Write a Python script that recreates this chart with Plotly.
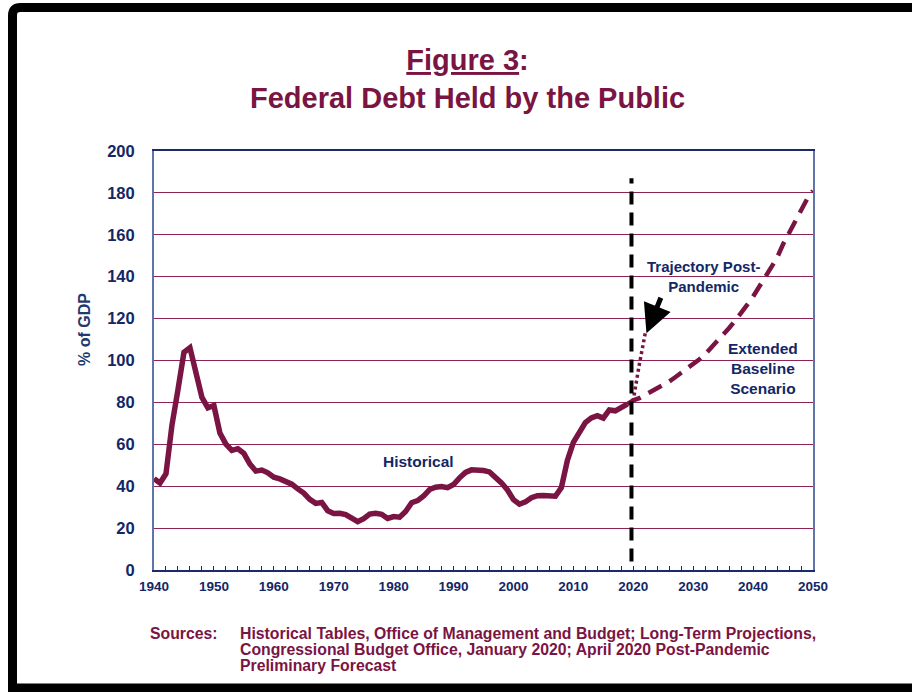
import plotly.graph_objects as go

# Federal debt held by the public, % of GDP (fiscal years)
hist_years = list(range(1940, 2020))
hist_debt = [
    43.6, 41.5, 45.9, 69.2, 86.0, 103.9, 106.1, 93.9, 82.4, 77.4,
    78.5, 65.4, 60.1, 57.1, 57.9, 55.7, 50.6, 47.2, 47.7, 46.4,
    44.3, 43.5, 42.3, 41.0, 38.7, 36.7, 33.7, 31.8, 32.2, 28.3,
    27.0, 27.1, 26.4, 25.1, 23.1, 24.5, 26.7, 27.1, 26.6, 24.6,
    25.5, 25.2, 27.9, 32.1, 33.1, 35.3, 38.4, 39.5, 39.8, 39.3,
    40.8, 44.0, 46.6, 47.8, 47.7, 47.5, 46.8, 44.5, 41.6, 38.2,
    33.6, 31.4, 32.5, 34.5, 35.5, 35.6, 35.3, 35.2, 39.3, 52.3,
    60.9, 65.9, 70.4, 72.6, 73.7, 72.5, 76.4, 76.0, 77.4, 79.2,
]

# CBO extended baseline scenario (January 2020)
base_years = list(range(2019, 2051))
base_debt = [
    79.2, 81.0, 82.0, 83.5, 85.0, 87.0, 88.5, 90.0, 92.0, 94.0, 96.0,
    98.5, 100.5, 103.0, 106.0, 109.0, 112.0, 115.5, 119.0, 122.5, 126.5,
    130.5, 135.0, 139.5, 144.0, 149.0, 155.5, 161.0, 166.5, 172.0, 177.0,
    181.0,
]

# April 2020 post-pandemic preliminary forecast
pandemic_years = [2019, 2020, 2021, 2022]
pandemic_debt = [79.2, 81.0, 98.0, 113.0]

x_ticks = list(range(1940, 2051, 10))
y_ticks = list(range(0, 201, 20))

MAROON = "#7A1443"
NAVY = "#132766"
FONT = "Liberation Sans, Arial, sans-serif"

# plot-area geometry in pixels (used to place paper-referenced items)
W, H = 912, 692
L, R, T, B = 154, 813, 151, 570
pw, ph = R - L, B - T


def px(x):
    return (x - L) / pw


def py(y):
    return (B - y) / ph


fig = go.Figure()

fig.add_trace(go.Scatter(
    x=hist_years, y=hist_debt, mode="lines",
    line=dict(color=MAROON, width=5.5, shape="linear"),
    hoverinfo="skip", showlegend=False,
))
fig.add_trace(go.Scatter(
    x=base_years, y=base_debt, mode="lines",
    line=dict(color=MAROON, width=4.5, dash="15px,9px"),
    hoverinfo="skip", showlegend=False,
))
fig.add_trace(go.Scatter(
    x=pandemic_years, y=pandemic_debt, mode="lines",
    line=dict(color=MAROON, width=3.5, dash="3px,3px"),
    hoverinfo="skip", showlegend=False,
))

# 2020 divider
fig.add_shape(type="line", xref="x", yref="y", x0=2019.7, x1=2019.7, y0=4, y1=187,
              line=dict(color="black", width=4, dash="13px,8px"), layer="above")

# outer frame (rounded top-left corner)
xl, xr = px(12.5), px(940)
yt, yb = py(7.5), py(688)
rx, ry = 8 / pw, 8 / ph
fig.add_shape(
    type="path", xref="paper", yref="paper",
    path=(f"M {xr},{yt} L {xl + rx},{yt} Q {xl},{yt} {xl},{yt - ry} "
          f"L {xl},{yb} L {xr},{yb}"),
    line=dict(color="black", width=9),
)

annotations = [
    dict(text="<u>Figure 3</u>:<br>Federal Debt Held by the Public",
         x=px(467), y=py(78.5), xref="paper", yref="paper",
         xanchor="center", yanchor="middle", showarrow=False,
         font=dict(family=FONT, size=29, color=MAROON, weight="bold")),
    dict(text="% of GDP", x=px(84), y=py(330), xref="paper", yref="paper",
         textangle=-90, xanchor="center", yanchor="middle", showarrow=False,
         font=dict(family=FONT, size=16, color="#1F3A6E", weight="bold")),
    dict(text="Historical", x=1984.2, y=52, xref="x", yref="y",
         showarrow=False, xanchor="center", yanchor="middle",
         font=dict(family=FONT, size=15.5, color=NAVY, weight="bold")),
    dict(text="Trajectory Post-<br>Pandemic", x=2031.8, y=140, xref="x", yref="y",
         showarrow=False, xanchor="center", yanchor="middle",
         font=dict(family=FONT, size=15, color=NAVY, weight="bold")),
    dict(text="Extended<br>Baseline<br>Scenario", x=2041.7, y=96, xref="x", yref="y",
         showarrow=False, xanchor="center", yanchor="middle",
         font=dict(family=FONT, size=15.5, color=NAVY, weight="bold")),
    dict(text="", x=2022.2, y=113, xref="x", yref="y", ax=15, ay=-37,
         showarrow=True, arrowhead=2, arrowsize=1.15, arrowwidth=5,
         arrowcolor="black"),
    dict(text="Sources:", x=px(148), y=py(633), xref="paper", yref="paper",
         xanchor="left", yanchor="middle", showarrow=False,
         font=dict(family=FONT, size=15.8, color=MAROON, weight="bold")),
]

source_lines = [
    "Historical Tables, Office of Management and Budget; Long-Term Projections,",
    "Congressional Budget Office, January 2020; April 2020 Post-Pandemic",
    "Preliminary Forecast",
]
for i, line in enumerate(source_lines):
    annotations.append(dict(
        text=line, x=px(238), y=py(633 + 16 * i), xref="paper", yref="paper",
        xanchor="left", yanchor="middle", showarrow=False,
        font=dict(family=FONT, size=15.8, color=MAROON, weight="bold")))

fig.update_layout(
    width=W, height=H,
    margin=dict(l=L, r=W - R, t=T, b=H - B, pad=0),
    paper_bgcolor="white", plot_bgcolor="white",
    annotations=annotations,
    xaxis=dict(
        range=[1940, 2050], tickvals=x_ticks, ticktext=[str(v) for v in x_ticks],
        showgrid=False, zeroline=False,
        showline=True, linecolor="#1B2A6B", linewidth=2, mirror=True,
        ticks="inside", ticklen=4, tickwidth=1, tickcolor="#1B2A6B",
        minor=dict(dtick=2, tick0=1940, ticks="inside", ticklen=4,
                   tickwidth=1, tickcolor="#1B2A6B", showgrid=False),
        tickfont=dict(family=FONT, size=13.5, color=NAVY, weight="bold"),
        ticklabelstandoff=3,
    ),
    yaxis=dict(
        range=[0, 200], tickvals=y_ticks, ticktext=[str(v) for v in y_ticks],
        showgrid=True, gridcolor="#8E2355", gridwidth=1, zeroline=False,
        showline=True, linecolor="#5F74AA", linewidth=2, mirror=True,
        ticks="", tickfont=dict(family=FONT, size=16.5, color=NAVY, weight="bold"),
        ticklabelstandoff=14,
    ),
)

fig.write_html("out.html")
